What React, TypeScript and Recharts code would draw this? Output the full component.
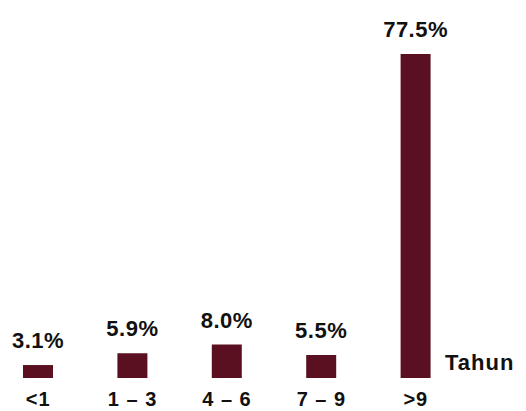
import { BarChart, Bar, XAxis, YAxis, LabelList } from "recharts";

const categories = ["<1", "1 – 3", "4 – 6", "7 – 9", ">9"];
const percentages = [3.1, 5.9, 8.0, 5.5, 77.5];
const unitLabel = "Tahun";

const data = categories.map((c, i) => ({ group: c, pct: percentages[i] }));

const font = "'Liberation Sans', Arial, sans-serif";

export default function App() {
  return (
    <div style={{ position: "absolute", left: 0, top: 0, width: 526, height: 411, overflow: "hidden", background: "#fff" }}>
      <div style={{ position: "absolute", left: -9, top: 0 }}>
        <BarChart
          width={535}
          height={411}
          data={data}
          margin={{ top: 43.5, right: 63, bottom: 0, left: 0 }}
        >
          <XAxis
            dataKey="group"
            axisLine={false}
            tickLine={false}
            tickSize={0}
            tickMargin={14}
            height={33}
            interval={0}
            tick={{ fill: "#111", fontSize: 20, fontWeight: 700, fontFamily: font, letterSpacing: 1 }}
          />
          <YAxis hide domain={[0, 80]} />
          <Bar dataKey="pct" fill="#5a1020" barSize={30} isAnimationActive={false}>
            <LabelList
              dataKey="pct"
              position="top"
              offset={17}
              formatter={(v: number) => `${v.toFixed(1)}%`}
              style={{ fill: "#111", fontSize: 22, fontWeight: 700, fontFamily: font, letterSpacing: 0.5 }}
            />
          </Bar>
        </BarChart>
      </div>
      <svg width={526} height={411} style={{ position: "absolute", left: 0, top: 0, pointerEvents: "none" }}>
        <text x={445} y={370} fill="#111" fontSize={22} fontWeight={700} fontFamily={font} letterSpacing={1}>
          {unitLabel}
        </text>
      </svg>
    </div>
  );
}
